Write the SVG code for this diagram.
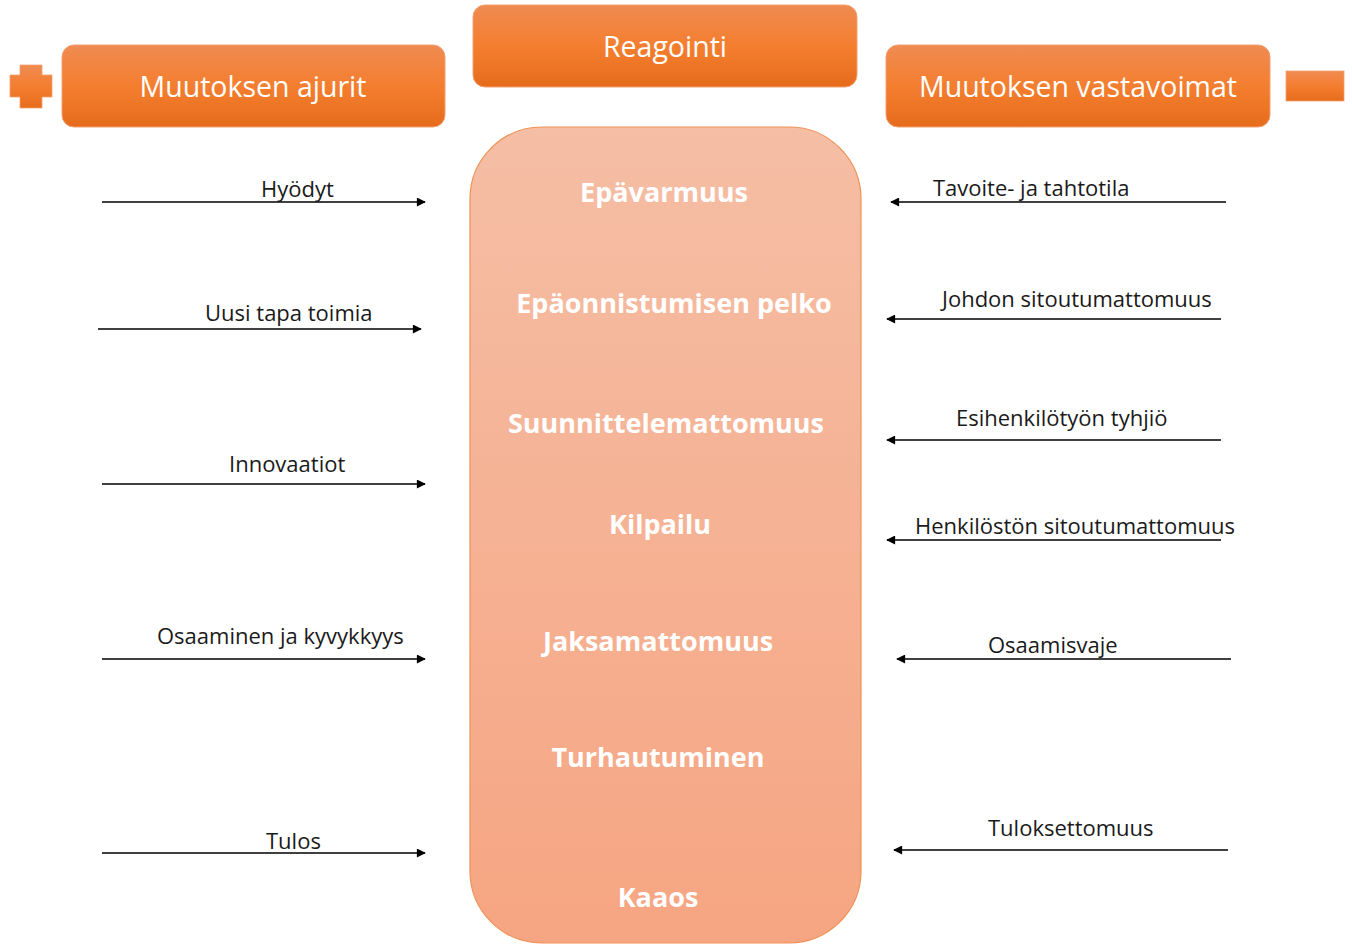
<svg xmlns="http://www.w3.org/2000/svg" width="1352" height="944" viewBox="0 0 1352 944">
<defs>
<linearGradient id="hdr" x1="0" y1="0" x2="0" y2="1">
<stop offset="0" stop-color="#EF8B52"/>
<stop offset="0.5" stop-color="#F47E2F"/>
<stop offset="1" stop-color="#E66C1C"/>
</linearGradient>
<linearGradient id="body" x1="0" y1="0" x2="0" y2="1">
<stop offset="0" stop-color="#F5BEA5"/>
<stop offset="1" stop-color="#F6A582"/>
</linearGradient>
<marker id="ah" viewBox="0 0 10 10" refX="9" refY="5" markerWidth="11" markerHeight="9" markerUnits="userSpaceOnUse" orient="auto">
<path d="M0,0 L10,5 L0,10 Z" fill="#000"/>
</marker>
<style>
.hdr{fill:url(#hdr);stroke:#F2A170;stroke-width:1}
.htxt{font-family:"Open Sans","Liberation Sans",sans-serif;font-size:28.5px;fill:#FFFFFF;text-anchor:middle}
.ctxt{font-family:"Open Sans","Liberation Sans",sans-serif;font-size:27px;font-weight:bold;fill:#FFFFFF;text-anchor:middle}
.lbl{font-family:"Open Sans","Liberation Sans",sans-serif;font-size:22px;fill:#1A1A1A}
.conn{stroke:#000;stroke-width:1.4;fill:none;marker-end:url(#ah)}
</style>
</defs>
<rect width="1352" height="944" fill="#FFFFFF"/>

<g id="plus-icon">
<path d="M20,65 H42 V75 H52 V97 H42 V108 H20 V97 H10 V75 H20 Z" fill="url(#hdr)" stroke="#F2A170" stroke-width="0.8"/>
</g>
<g id="minus-icon">
<rect x="1286" y="71" width="58" height="30" fill="url(#hdr)" stroke="#F2A170" stroke-width="0.8"/>
</g>

<g id="node-ajurit">
<rect class="hdr" x="62" y="45" width="383" height="82" rx="12"/>
<text class="htxt" x="253" y="97">Muutoksen ajurit</text>
</g>
<g id="node-reagointi">
<rect class="hdr" x="473" y="5" width="384" height="82" rx="12"/>
<text class="htxt" x="665" y="57">Reagointi</text>
</g>
<g id="node-vastavoimat">
<rect class="hdr" x="886" y="45" width="384" height="82" rx="12"/>
<text class="htxt" x="1078" y="97">Muutoksen vastavoimat</text>
</g>

<g id="node-center">
<rect x="470" y="127" width="391" height="816" rx="72" fill="url(#body)" stroke="#EF9155" stroke-width="1.2"/>
<text class="ctxt" x="664" y="202">Epävarmuus</text>
<text class="ctxt" x="674" y="313">Epäonnistumisen pelko</text>
<text class="ctxt" x="666" y="433">Suunnittelemattomuus</text>
<text class="ctxt" x="660" y="534">Kilpailu</text>
<text class="ctxt" x="658" y="651">Jaksamattomuus</text>
<text class="ctxt" x="658" y="767">Turhautuminen</text>
<text class="ctxt" x="658" y="907">Kaaos</text>
</g>

<g id="connectors">
<line class="conn" x1="102" y1="202" x2="425" y2="202"/>
<line class="conn" x1="98" y1="329" x2="421" y2="329"/>
<line class="conn" x1="102" y1="484" x2="425" y2="484"/>
<line class="conn" x1="102" y1="659" x2="425" y2="659"/>
<line class="conn" x1="102" y1="853" x2="425" y2="853"/>
<line class="conn" x1="1226" y1="202" x2="891" y2="202"/>
<line class="conn" x1="1221" y1="319" x2="887" y2="319"/>
<line class="conn" x1="1221" y1="440" x2="887" y2="440"/>
<line class="conn" x1="1221" y1="540" x2="887" y2="540"/>
<line class="conn" x1="1231" y1="659" x2="897" y2="659"/>
<line class="conn" x1="1228" y1="850" x2="894" y2="850"/>
</g>

<g id="labels">
<text class="lbl" x="261" y="197">Hyödyt</text>
<text class="lbl" x="205" y="321">Uusi tapa toimia</text>
<text class="lbl" x="229" y="472">Innovaatiot</text>
<text class="lbl" x="157" y="644">Osaaminen ja kyvykkyys</text>
<text class="lbl" x="266" y="849">Tulos</text>
<text class="lbl" x="933" y="196">Tavoite- ja tahtotila</text>
<text class="lbl" x="942" y="307">Johdon sitoutumattomuus</text>
<text class="lbl" x="956" y="426">Esihenkilötyön tyhjiö</text>
<text class="lbl" x="915" y="534">Henkilöstön sitoutumattomuus</text>
<text class="lbl" x="988" y="653">Osaamisvaje</text>
<text class="lbl" x="988" y="836">Tuloksettomuus</text>
</g>
</svg>
